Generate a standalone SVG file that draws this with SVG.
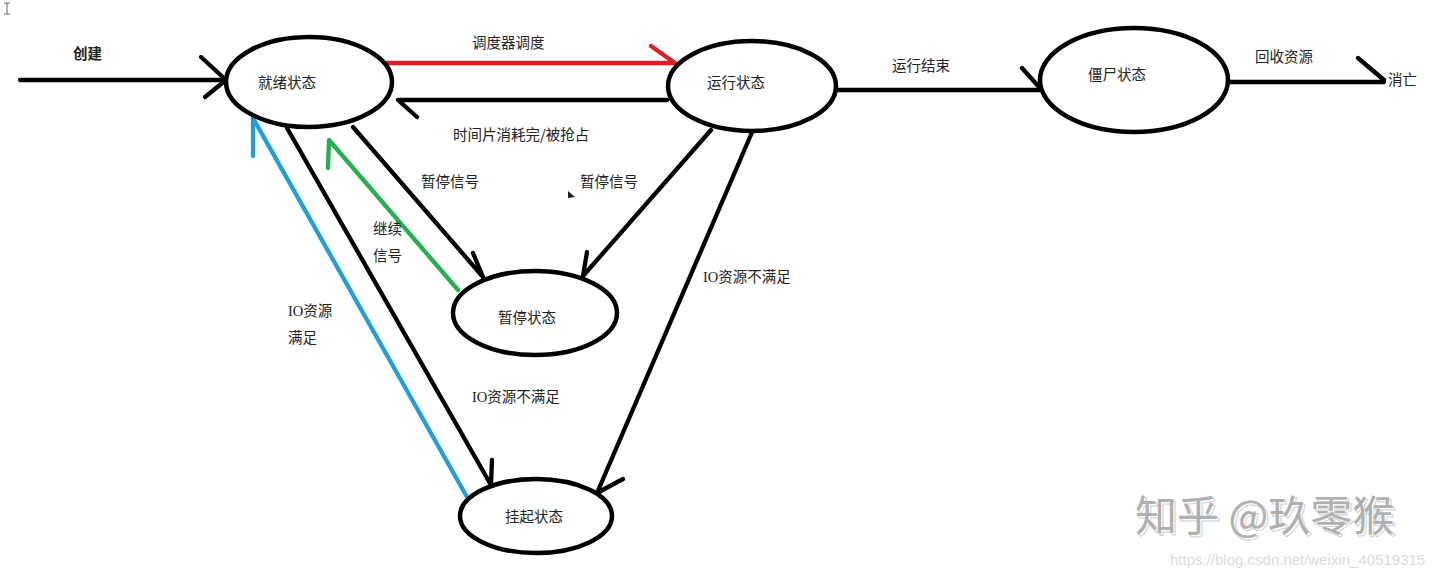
<svg xmlns="http://www.w3.org/2000/svg" width="1440" height="578" viewBox="0 0 1440 578">
<style>
.n{fill:#fff;stroke:#000;stroke-width:4.5}
.l{fill:none;stroke:#000;stroke-width:4.3;stroke-linecap:round;stroke-linejoin:round}
.r{stroke:#e01e26}
.g{stroke:#22b14c}
.b{stroke:#1ea0dc}
text{font-family:"Noto Sans CJK SC","Microsoft YaHei",sans-serif;font-size:14.5px;fill:#222}
.io{font-family:"Liberation Serif","Noto Sans CJK SC",serif}
</style>
<rect width="1440" height="578" fill="#fff"/>
<g id="connectors">
<path class="l" d="M20 80 H226 M201 57 L226 80 L205 97"/>
<path class="l r" d="M386 63 H675 M651 46 L675 63"/>
<path class="l" d="M667 100 H398 L417 117"/>
<path class="l" d="M837 90 H1040 M1022 68 L1040 88"/>
<path class="l" d="M1228 82 H1384 M1358 58 L1384 80"/>
<path class="l" d="M287 128 L491 485 M492 460 L491 484"/>
<path class="l b" d="M467 497 L253 118 L253 156"/>
<path class="l g" d="M458 290 L329 140 L328 168"/>
<path class="l" d="M353 127 L483 277 L473 253"/>
<path class="l" d="M711 130 L583 276 L587 252"/>
<path class="l" d="M753 130 L597 493 L623 479"/>
</g>
<g id="ready"><ellipse class="n" cx="309" cy="82" rx="83" ry="45"/><text x="258" y="88">就绪状态</text></g>
<g id="running"><ellipse class="n" cx="752" cy="86" rx="84" ry="45"/><text x="707" y="88">运行状态</text></g>
<g id="zombie"><ellipse class="n" cx="1134" cy="80" rx="94" ry="52"/><text x="1088" y="80">僵尸状态</text></g>
<g id="paused"><ellipse class="n" cx="535" cy="313" rx="82" ry="42"/><text x="498" y="323">暂停状态</text></g>
<g id="suspended"><ellipse class="n" cx="536" cy="516" rx="76" ry="37"/><text x="505" y="522">挂起状态</text></g>
<g id="labels">
<text x="73" y="59" font-weight="bold">创建</text>
<text x="472" y="48">调度器调度</text>
<text x="453" y="140">时间片消耗完/被抢占</text>
<text x="892" y="71">运行结束</text>
<text x="1255" y="62">回收资源</text>
<text x="1388" y="85">消亡</text>
<text x="421" y="187">暂停信号</text>
<text x="580" y="187">暂停信号</text>
<text x="373" y="234">继续</text>
<text x="373" y="261">信号</text>
<text x="288" y="316"><tspan class="io">IO</tspan>资源</text>
<text x="288" y="343">满足</text>
<text x="472" y="402"><tspan class="io">IO</tspan>资源不满足</text>
<text x="703" y="282"><tspan class="io">IO</tspan>资源不满足</text>
</g>
<g id="marks">
<polygon points="568,191 568,198 575,197" fill="#222"/>
<path d="M4 3 H10 M7 3 V14 M4 14 H10" stroke="#666" stroke-width="1" fill="none"/>
</g>
<g id="watermark">
<text x="1137" y="533" style="font-size:42px;fill:#fff;stroke:#d0d0d0;stroke-width:1">知乎 @玖零猴</text>
<text x="1135" y="531" style="font-size:42px;fill:#b0b0b0">知乎 @玖零猴</text>
<text x="1170" y="565" style="font-family:'Liberation Sans',sans-serif;font-size:15px;fill:#dcdcdc">https://blog.csdn.net/weixin_40519315</text>
</g>
</svg>
